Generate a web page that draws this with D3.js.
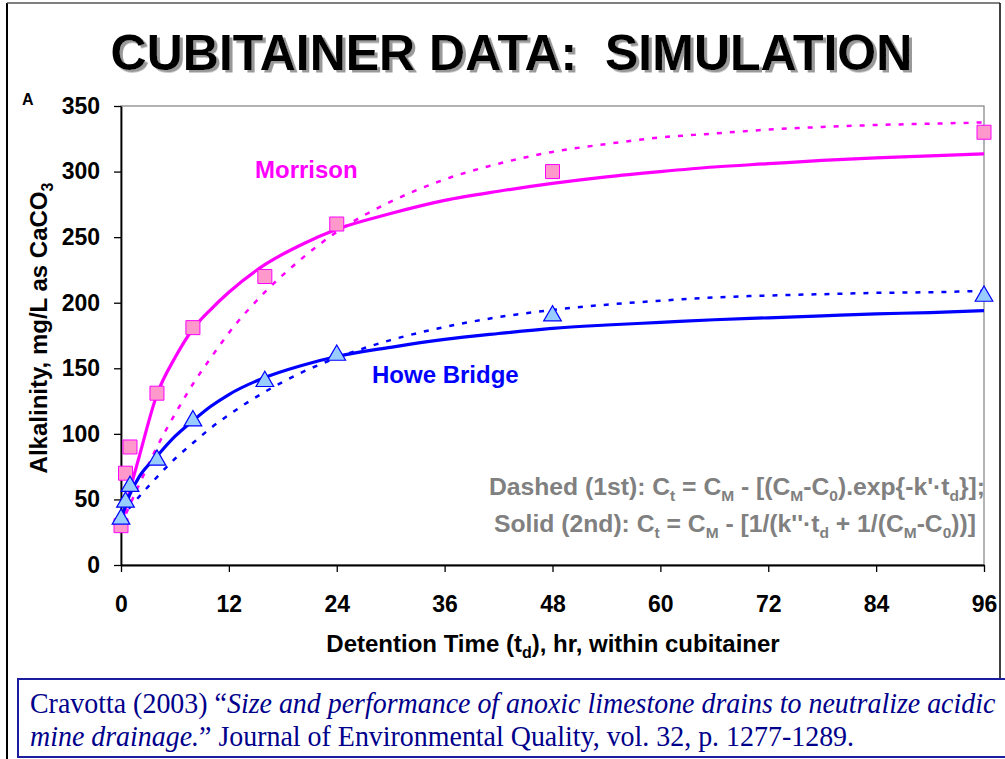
<!DOCTYPE html>
<html lang="en">
<head>
<meta charset="UTF-8">
<title>Cubitainer data: simulation</title>
<script src="https://cdn.jsdelivr.net/npm/d3@7"></script>
<style>
    body { margin: 0; background: #fff; }
    svg text { white-space: pre; }
</style>
</head>
<body>
<svg id="chart" width="1005" height="759"></svg>
<script>
// observed points (hr, mg/L as CaCO3)
const hours = [0, 0.5, 1, 4, 8, 16, 24, 48, 96];
const morrisonObs = [30, 70, 90, 131, 181, 220, 260, 300, 330];
const howeObs = [35, 48, 60, 80, 110, 140, 160, 190, 205];

// simulated curves
const curveHours = [0, 1, 2, 4, 6, 8, 10, 12, 16, 20, 24, 30, 36, 42, 48, 54, 60, 66, 72, 78, 84, 90, 96];
const morrisonSolid = [30, 57, 82, 130, 158, 180, 195, 208, 229, 244, 256, 268, 278, 285, 291, 296, 300, 303.5, 306, 308.5, 310.5, 312, 313.5];
const morrisonDashed = [30, 46, 61, 90, 115, 138, 158, 177, 208, 233, 254, 277, 294, 306, 315, 321, 326, 329, 332, 334, 335.5, 336.5, 337.5];
const howeSolid = [35, 54, 67, 83, 98, 110, 121, 130, 143, 152, 159, 166, 172, 176.5, 180.5, 183, 185, 187, 188.5, 190, 191.5, 192.5, 194];
const howeDashed = [35, 44, 52, 67, 81, 93, 104.5, 114.5, 132, 146.5, 158, 171.5, 181.5, 189, 194.5, 198.5, 201.5, 204, 205.5, 206.5, 207.5, 208, 209];

const xTicks = [0, 12, 24, 36, 48, 60, 72, 84, 96];
const yTicks = [0, 50, 100, 150, 200, 250, 300, 350];

const svg = d3.select("#chart");
const x = d3.scaleLinear().domain([0, 96]).range([121, 984]);
const y = d3.scaleLinear().domain([0, 350]).range([565, 106]);

const MAGENTA = "#ff00ff", BLUE = "#0000ff", GREY = "#808080";
const font = "Liberation Sans, Arial, sans-serif";

// drop shadow for the title
svg.append("defs").append("filter").attr("id", "shadow")
    .attr("x", "-5%").attr("y", "-20%").attr("width", "110%").attr("height", "140%")
    .append("feDropShadow").attr("dx", 3).attr("dy", 2.5).attr("stdDeviation", 0.6)
    .attr("flood-color", "#999").attr("flood-opacity", 1);

// slide frame
svg.append("line").attr("x1", 7).attr("x2", 7).attr("y1", 3).attr("y2", 759).attr("stroke", "#000").attr("stroke-width", 2);
svg.append("line").attr("x1", 7).attr("x2", 1000).attr("y1", 3).attr("y2", 3).attr("stroke", "#555").attr("stroke-width", 1.5);
svg.append("line").attr("x1", 1000).attr("x2", 1000).attr("y1", 3).attr("y2", 679).attr("stroke", "#000").attr("stroke-width", 1.5);

svg.append("text").attr("x", 511.5).attr("y", 69.5).attr("text-anchor", "middle")
    .attr("font-family", font).attr("font-weight", "bold").attr("font-size", 50)
    .attr("fill", "#000").attr("filter", "url(#shadow)").text("CUBITAINER DATA:  SIMULATION");

svg.append("text").attr("x", 22).attr("y", 105)
    .attr("font-family", font).attr("font-weight", "bold").attr("font-size", 16)
    .text("A");

// plot frame
svg.append("rect").attr("x", x(0)).attr("y", y(350)).attr("width", x(96) - x(0)).attr("height", y(0) - y(350))
    .attr("fill", "none").attr("stroke", GREY).attr("stroke-width", 1.2);

const yAxis = svg.append("g").attr("transform", `translate(${x(0)},0)`)
    .call(d3.axisLeft(y).tickValues(yTicks).tickSize(7).tickSizeOuter(0).tickPadding(14));
const xAxis = svg.append("g").attr("transform", `translate(0,${y(0)})`)
    .call(d3.axisBottom(x).tickValues(xTicks).tickSize(7).tickSizeOuter(0));
[yAxis, xAxis].forEach(g => {
    g.select(".domain").attr("stroke", "#000").attr("stroke-width", 1.8);
    g.selectAll(".tick line").attr("stroke", "#000").attr("stroke-width", 1.3);
    g.selectAll(".tick text").attr("font-family", font).attr("font-weight", "bold")
        .attr("font-size", 23).attr("fill", "#000");
});
xAxis.selectAll(".tick text").attr("y", 47).attr("dy", 0);

// text helper: parts are [string, isSubscript]
function richText(g, parts, size, subSize) {
    parts.forEach(([s, sub], i) => {
        const prevSub = i > 0 && parts[i - 1][1];
        const t = g.append("tspan").text(s);
        if (sub) t.attr("font-size", subSize).attr("dy", size * 0.25);
        else if (prevSub) t.attr("dy", -size * 0.25);
    });
}

const xl = svg.append("text").attr("x", 553).attr("y", 652).attr("text-anchor", "middle")
    .attr("font-family", font).attr("font-weight", "bold").attr("font-size", 24);
richText(xl, [["Detention Time (t", 0], ["d", 1], ["), hr, within cubitainer", 0]], 24, 16);

const yl = svg.append("text").attr("transform", "translate(47,328) rotate(-90)").attr("text-anchor", "middle")
    .attr("font-family", font).attr("font-weight", "bold").attr("font-size", 24);
richText(yl, [["Alkalinity, mg/L as CaCO", 0], ["3", 1]], 24, 16);

// curves
const line = (xs, ys) => d3.line().x((d, i) => x(xs[i])).y(d => y(d)).curve(d3.curveMonotoneX)(ys);
svg.append("path").attr("d", line(curveHours, morrisonDashed)).attr("fill", "none")
    .attr("stroke", MAGENTA).attr("stroke-width", 2.5).attr("stroke-dasharray", "5,8");
svg.append("path").attr("d", line(curveHours, howeDashed)).attr("fill", "none")
    .attr("stroke", BLUE).attr("stroke-width", 2.5).attr("stroke-dasharray", "5,8");
svg.append("path").attr("d", line(curveHours, morrisonSolid)).attr("fill", "none")
    .attr("stroke", MAGENTA).attr("stroke-width", 3.2);
svg.append("path").attr("d", line(curveHours, howeSolid)).attr("fill", "none")
    .attr("stroke", BLUE).attr("stroke-width", 3.2);

// markers
svg.append("g").selectAll("path").data(morrisonObs).join("path")
    .attr("transform", (d, i) => `translate(${x(hours[i])},${y(d)})`)
    .attr("d", d3.symbol(d3.symbolSquare, 196))
    .attr("fill", "#ff99cc").attr("stroke", MAGENTA).attr("stroke-width", 1);
svg.append("g").selectAll("path").data(howeObs).join("path")
    .attr("transform", (d, i) => `translate(${x(hours[i])},${y(d)})`)
    .attr("d", d3.symbol(d3.symbolTriangle, 135))
    .attr("fill", "#99ccff").attr("stroke", BLUE).attr("stroke-width", 1.2);

// series labels
svg.append("text").attr("x", 255).attr("y", 178).attr("font-family", font).attr("font-weight", "bold")
    .attr("font-size", 24).attr("fill", MAGENTA).text("Morrison");
svg.append("text").attr("x", 372).attr("y", 383).attr("font-family", font).attr("font-weight", "bold")
    .attr("font-size", 24).attr("fill", BLUE).text("Howe Bridge");

// equations
const eq1 = svg.append("text").attr("x", 985).attr("y", 495).attr("text-anchor", "end")
    .attr("font-family", font).attr("font-weight", "bold").attr("font-size", 24.7).attr("fill", GREY);
richText(eq1, [["Dashed (1st): C", 0], ["t", 1], [" = C", 0], ["M", 1], [" - [(C", 0], ["M", 1], ["-C", 0], ["0", 1],
    [").exp{-k'\u00b7t", 0], ["d", 1], ["}];", 0]], 24.7, 15.5);
const eq2 = svg.append("text").attr("x", 976).attr("y", 532).attr("text-anchor", "end")
    .attr("font-family", font).attr("font-weight", "bold").attr("font-size", 24.7).attr("fill", GREY);
richText(eq2, [["Solid (2nd): C", 0], ["t", 1], [" = C", 0], ["M", 1], [" - [1/(k''\u00b7t", 0], ["d", 1],
    [" + 1/(C", 0], ["M", 1], ["-C", 0], ["0", 1], ["))]", 0]], 24.7, 15.5);

// citation box
svg.append("rect").attr("x", 18).attr("y", 679).attr("width", 1000).attr("height", 78)
    .attr("fill", "none").attr("stroke", "#1c1ca0").attr("stroke-width", 2);
const cite = svg.append("g").attr("font-family", "Liberation Serif, Times New Roman, serif")
    .attr("font-size", 30).attr("fill", "#00008b");
const c1 = cite.append("text").attr("x", 0).attr("y", 713);
c1.append("tspan").text("Cravotta (2003) \u201c");
c1.append("tspan").attr("font-style", "italic").text("Size and performance of anoxic limestone drains to neutralize acidic");
const c2 = cite.append("text").attr("x", 0).attr("y", 746);
c2.append("tspan").attr("font-style", "italic").text("mine drainage.");
c2.append("tspan").text("\u201d Journal of Environmental Quality, vol. 32, p. 1277-1289.");
// the slide font is narrower than Times; squeeze the citation to its width
const w1 = c1.node().getComputedTextLength();
cite.attr("transform", `translate(30,0) scale(${966 / w1},1)`);
</script>
</body>
</html>
